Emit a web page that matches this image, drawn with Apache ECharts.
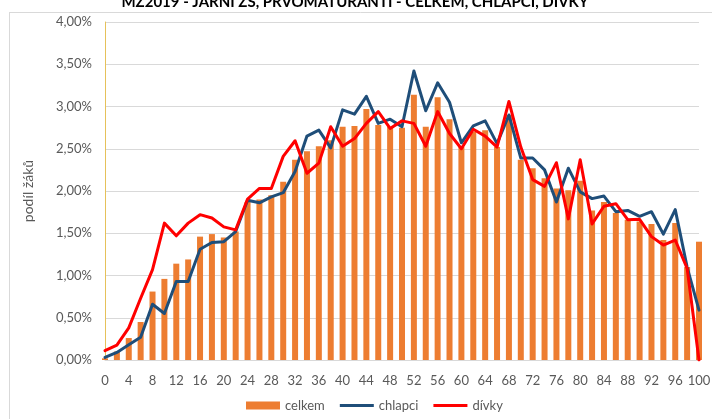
<!DOCTYPE html>
<html>
<head>
<meta charset="utf-8">
<script src="https://cdn.jsdelivr.net/npm/echarts@6/dist/echarts.min.js"></script>
<style>html,body{margin:0;padding:0;background:#fff;}#c{width:721px;height:419px;}</style>
</head>
<body>
<div id="c"></div>
<script>
var scores = [0,2,4,6,8,10,12,14,16,18,20,22,24,26,28,30,32,34,36,38,40,42,44,46,48,50,52,54,56,58,60,62,64,66,68,70,72,74,76,78,80,82,84,86,88,90,92,94,96,98,100];
var celkem = [0.02,0.10,0.26,0.45,0.81,0.96,1.14,1.19,1.46,1.49,1.45,1.52,1.87,1.90,1.95,2.11,2.37,2.47,2.53,2.60,2.76,2.77,2.97,2.78,2.76,2.75,3.14,2.76,3.11,2.85,2.52,2.70,2.72,2.52,2.90,2.37,2.27,2.15,2.03,2.01,2.12,1.77,1.87,1.74,1.66,1.64,1.61,1.42,1.62,1.10,1.40];
var chlapci = [0.03,0.09,0.18,0.27,0.66,0.55,0.93,0.93,1.31,1.39,1.40,1.52,1.89,1.86,1.93,1.98,2.23,2.65,2.72,2.51,2.96,2.91,3.12,2.80,2.85,2.76,3.42,2.95,3.28,3.05,2.57,2.77,2.83,2.56,2.90,2.39,2.39,2.25,1.87,2.27,1.99,1.91,1.94,1.755,1.77,1.70,1.755,1.49,1.78,1.10,0.59];
var divky = [0.11,0.175,0.38,0.73,1.07,1.62,1.47,1.62,1.72,1.68,1.575,1.54,1.905,2.03,2.03,2.41,2.595,2.21,2.33,2.76,2.53,2.62,2.80,2.94,2.74,2.83,2.80,2.53,2.94,2.68,2.50,2.73,2.65,2.52,3.06,2.52,2.135,2.055,2.335,1.67,2.37,1.61,1.82,1.85,1.66,1.665,1.46,1.36,1.42,1.085,0.0];
var titleText = 'MZ2019 - JARNÍ ZŠ, PRVOMATURANTI - CELKEM, CHLAPCI, DÍVKY';
var yName = 'podíl žáků';

var FONT = 'Lato, "Open Sans", sans-serif';
var chart = echarts.init(document.getElementById('c'), null, {renderer:'canvas'});
chart.setOption({
  animation: false,
  backgroundColor: '#ffffff',
  textStyle: {fontFamily: FONT},
  graphic: [
    {type:'text', x:355, y:10, silent:true, z:100,
      style:{text:titleText, textAlign:'center', textVerticalAlign:'bottom', fill:'#000',
        font:'bold 15px Lato, "Open Sans", sans-serif'}},
    {type:'line', shape:{x1:9, y1:12.5, x2:712, y2:12.5}, style:{stroke:'#d9d9d9', lineWidth:1}, silent:true},
    {type:'line', shape:{x1:9.5, y1:12, x2:9.5, y2:419}, style:{stroke:'#d9d9d9', lineWidth:1}, silent:true}
  ],
  legend: {
    left: 241, top: 394, itemGap: 15, itemWidth: 34, itemHeight: 8,
    textStyle: {fontSize: 13, color: '#595959', fontFamily: FONT},
    data: [
      {name:'celkem', icon:'rect'},
      {name:'chlapci', icon:'path://M0,0h34v3h-34z'},
      {name:'dívky', icon:'path://M0,0h34v3h-34z'}
    ]
  },
  grid: {left: 105, right: 22, top: 22, bottom: 59, containLabel: false},
  xAxis: {
    type: 'category', data: scores, boundaryGap: false,
    axisLine: {lineStyle: {color: '#d9d9d9'}},
    axisTick: {show: false},
    axisLabel: {interval: 1, color: '#595959', fontSize: 13, margin: 14, fontFamily: FONT},
    splitLine: {show: false}
  },
  yAxis: {
    type: 'value', min: 0, max: 4, interval: 0.5,
    name: yName, nameLocation: 'middle', nameGap: 70, nameRotate: 90,
    nameTextStyle: {fontSize: 14, color: '#595959', fontFamily: FONT},
    axisLine: {show: true, lineStyle: {color: '#e6c15a'}},
    axisTick: {show: false},
    axisLabel: {color: '#595959', fontSize: 13, margin: 13, fontFamily: FONT,
      formatter: function(v){ return v.toFixed(2).replace('.', ',') + '%'; }},
    splitLine: {lineStyle: {color: '#d9d9d9'}}
  },
  series: [
    {name:'celkem', type:'bar', data: celkem, barWidth: 6, itemStyle:{color:'#ED7D31'}, z: 1},
    {name:'chlapci', type:'line', data: chlapci, symbol:'none', lineStyle:{color:'#1F4E79', width:3, cap:'round', join:'round'}, itemStyle:{color:'#1F4E79'}, z: 3},
    {name:'dívky', type:'line', data: divky, symbol:'none', lineStyle:{color:'#FF0000', width:3, cap:'round', join:'round'}, itemStyle:{color:'#FF0000'}, z: 4}
  ]
});
</script>
</body>
</html>
